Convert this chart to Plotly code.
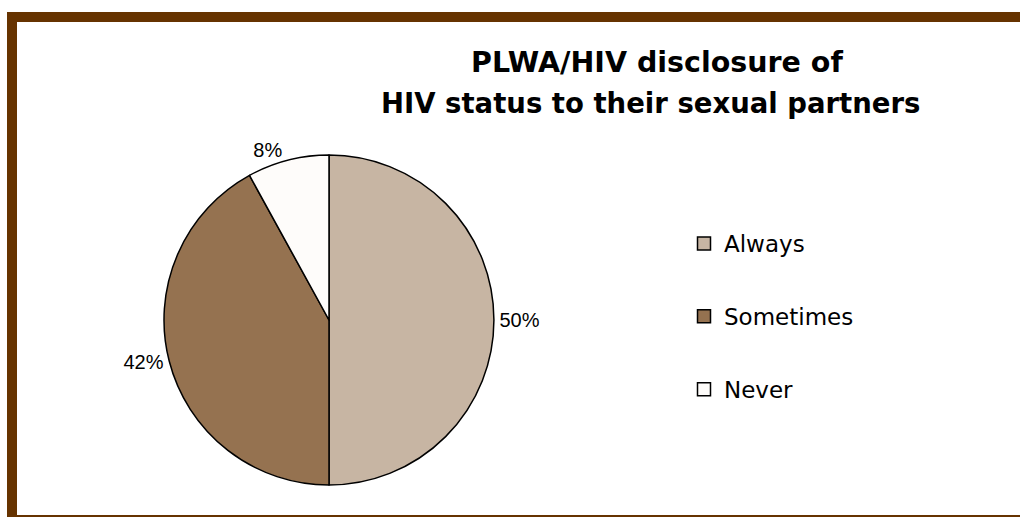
import plotly.graph_objects as go

categories = ["Always", "Sometimes", "Never"]
values = [50, 42, 8]
colors = ["#C7B5A3", "#957250", "#FEFCFA"]
title_lines = ["PLWA/HIV disclosure of", "HIV status to their sexual partners"]

W, H = 1020, 517
BORDER = "#663300"

fig = go.Figure()

fig.add_trace(go.Pie(
    labels=categories,
    values=values,
    marker=dict(colors=colors, line=dict(color="#000000", width=1.5)),
    sort=False,
    direction="clockwise",
    rotation=0,
    textinfo="percent",
    textposition="outside",
    textfont=dict(family="Liberation Sans, Arial, sans-serif", size=20, color="#000000"),
    showlegend=False,
    hoverinfo="label+percent",
    domain=dict(x=[164 / W, 494 / W], y=[32 / H, 362 / H]),
))

# Legend entries as separate groups to get the large vertical spacing
for i, (cat, col) in enumerate(zip(categories, colors)):
    fig.add_trace(go.Scatter(
        x=[None], y=[None], mode="markers", name=cat,
        legendgroup=cat,
        marker=dict(symbol="square", size=13, color=col, line=dict(color="#000000", width=1.5)),
        showlegend=True,
    ))

fig.update_layout(
    width=W, height=H,
    margin=dict(l=0, r=0, t=0, b=0),
    paper_bgcolor="white",
    plot_bgcolor="white",
    xaxis=dict(visible=False),
    yaxis=dict(visible=False),
    legend=dict(
        x=684 / W, y=(H - 222) / H, xanchor="left", yanchor="top",
        font=dict(family="DejaVu Sans, sans-serif", size=23, color="#000000"),
        tracegroupgap=40,
        itemwidth=30,
        bgcolor="rgba(0,0,0,0)",
    ),
    shapes=[
        dict(type="rect", xref="paper", yref="paper", x0=7 / W, x1=1, y0=1 - 22 / H, y1=1 - 12 / H,
             fillcolor=BORDER, line=dict(width=0)),
        dict(type="rect", xref="paper", yref="paper", x0=7 / W, x1=17 / W, y0=0, y1=1 - 12 / H,
             fillcolor=BORDER, line=dict(width=0)),
        dict(type="rect", xref="paper", yref="paper", x0=17 / W, x1=1, y0=0, y1=2 / H,
             fillcolor=BORDER, line=dict(width=0)),
    ],
    annotations=[
        dict(text="<b>%s</b>" % title_lines[0], xref="paper", yref="paper", x=657 / W, y=1 - 62 / H,
             xanchor="center", yanchor="middle", showarrow=False,
             font=dict(family="DejaVu Sans, sans-serif", size=28.5, color="#000000")),
        dict(text="<b>%s</b>" % title_lines[1], xref="paper", yref="paper", x=650 / W, y=1 - 103 / H,
             xanchor="center", yanchor="middle", showarrow=False,
             font=dict(family="DejaVu Sans, sans-serif", size=27.5, color="#000000")),
    ],
)

fig.write_html("out.html", config={"displayModeBar": False},
               post_script="document.body.style.margin='0';")
